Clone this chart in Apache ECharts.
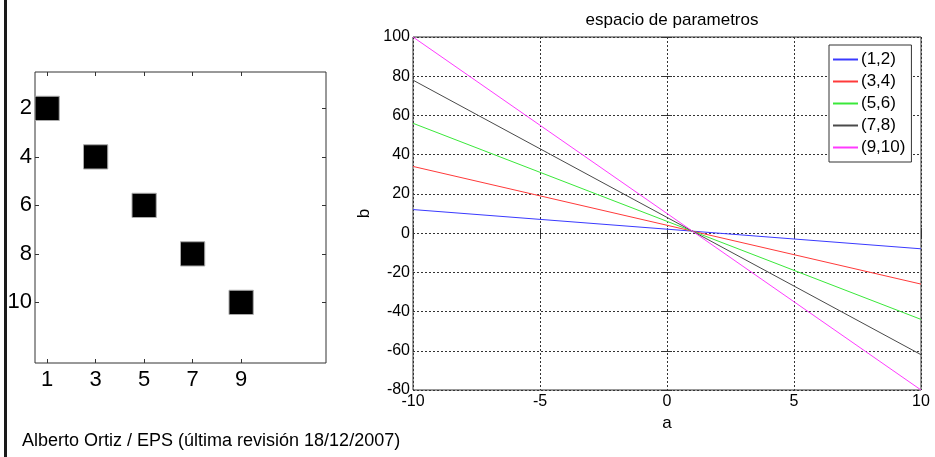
<!DOCTYPE html>
<html>
<head>
<meta charset="utf-8">
<script src="https://cdn.jsdelivr.net/npm/echarts@6/dist/echarts.min.js"></script>
<style>html,body{margin:0;padding:0;background:#fff;}#c{width:935px;height:457px;}</style>
</head>
<body>
<div id="c"></div>
<script>
// Left panel: image pixels (column, row)
var imageCols = [1, 3, 5, 7, 9];
var imageRows = [2, 4, 6, 8, 10];
var imageXTicks = [1, 3, 5, 7, 9];
var imageYTicks = [2, 4, 6, 8, 10];

// Right panel: lines in parameter space, read at a = -10 and a = 10
var seriesNames = ['(1,2)', '(3,4)', '(5,6)', '(7,8)', '(9,10)'];
var aRange = [-10, 10];
var bAtStart = [12, 34, 56, 78, 100];
var bAtEnd = [-8, -26, -44, -62, -80];
var seriesColors = ['#3a3aff', '#ff3a3a', '#3ae83a', '#4a4a4a', '#ff3aff'];

var FONT = 'Liberation Sans, Arial, Helvetica, sans-serif';
var chart = echarts.init(document.getElementById('c'), null, {renderer: 'canvas'});

var lineSeries = seriesNames.map(function (n, i) {
  return {
    name: n, type: 'line', xAxisIndex: 2, yAxisIndex: 2,
    data: [[aRange[0], bAtStart[i]], [aRange[1], bAtEnd[i]]],
    symbol: 'none', showSymbol: false, animation: false,
    lineStyle: {color: seriesColors[i], width: 1},
    itemStyle: {color: seriesColors[i]},
    z: 5
  };
});

var imageData = imageCols.map(function (c, i) { return [c, imageRows[i]]; });

var option = {
  animation: false,
  backgroundColor: '#fff',
  textStyle: {fontFamily: FONT},
  title: {
    text: 'espacio de parametros', left: 667, top: 7, textAlign: 'center',
    textStyle: {fontFamily: FONT, fontSize: 17, fontWeight: 'normal', color: '#000'}
  },
  legend: {
    orient: 'vertical', left: 829, top: 45, width: 83, height: 114,
    data: seriesNames,
    backgroundColor: '#fff', borderColor: '#333', borderWidth: 1,
    padding: [6, 6, 6, 4], itemGap: 5, itemWidth: 25, itemHeight: 17,
    icon: 'path://M0,7L25,7L25,9L0,9Z',
    textStyle: {fontFamily: FONT, fontSize: 17, color: '#000', padding: [0, 0, 0, -2]},
    selectedMode: false
  },
  grid: [
    {left: 35, top: 72, width: 291, height: 291, show: true, borderColor: '#333', borderWidth: 1, backgroundColor: '#fff'},
    {left: 413, top: 37, width: 508, height: 353, show: true, borderColor: '#333', borderWidth: 1, backgroundColor: '#fff'}
  ],
  xAxis: [
    {gridIndex: 0, type: 'value', min: 0.5, max: 12.5, position: 'bottom',
     axisLine: {show: false}, splitLine: {show: false},
     axisTick: {show: true, inside: true, length: 4, customValues: imageXTicks, lineStyle: {color: '#333'}},
     axisLabel: {customValues: imageXTicks, fontFamily: FONT, fontSize: 22, color: '#000', margin: 6}},
    {gridIndex: 0, type: 'value', min: 0.5, max: 12.5, position: 'top',
     axisLine: {show: false}, splitLine: {show: false},
     axisTick: {show: true, inside: true, length: 4, customValues: imageXTicks, lineStyle: {color: '#333'}},
     axisLabel: {show: false}},
    {gridIndex: 1, type: 'value', min: -10, max: 10, interval: 5, position: 'bottom',
     name: 'a', nameLocation: 'middle', nameGap: 24,
     nameTextStyle: {fontFamily: FONT, fontSize: 17, color: '#000'},
     axisLine: {show: false},
     splitLine: {show: true, lineStyle: {color: '#333', type: [2, 2], width: 1}},
     axisTick: {show: true, inside: true, length: 5, lineStyle: {color: '#333'}},
     axisLabel: {fontFamily: FONT, fontSize: 16, color: '#000', margin: 4}},
    {gridIndex: 1, type: 'value', min: -10, max: 10, interval: 5, position: 'top',
     axisLine: {show: false}, splitLine: {show: false},
     axisTick: {show: true, inside: true, length: 5, lineStyle: {color: '#333'}},
     axisLabel: {show: false}}
  ],
  yAxis: [
    {gridIndex: 0, type: 'value', min: 0.5, max: 12.5, inverse: true, position: 'left',
     axisLine: {show: false}, splitLine: {show: false},
     axisTick: {show: true, inside: true, length: 4, customValues: imageYTicks, lineStyle: {color: '#333'}},
     axisLabel: {customValues: imageYTicks, fontFamily: FONT, fontSize: 22, color: '#000', margin: 3}},
    {gridIndex: 0, type: 'value', min: 0.5, max: 12.5, inverse: true, position: 'right',
     axisLine: {show: false}, splitLine: {show: false},
     axisTick: {show: true, inside: true, length: 4, customValues: imageYTicks, lineStyle: {color: '#333'}},
     axisLabel: {show: false}},
    {gridIndex: 1, type: 'value', min: -80, max: 100, interval: 20, position: 'left',
     name: 'b', nameLocation: 'middle', nameGap: 40, nameRotate: 90,
     nameTextStyle: {fontFamily: FONT, fontSize: 17, color: '#000'},
     axisLine: {show: false},
     splitLine: {show: true, lineStyle: {color: '#333', type: [2, 2], width: 1}},
     axisTick: {show: true, inside: true, length: 5, lineStyle: {color: '#333'}},
     axisLabel: {fontFamily: FONT, fontSize: 16, color: '#000', margin: 3}},
    {gridIndex: 1, type: 'value', min: -80, max: 100, interval: 20, position: 'right',
     axisLine: {show: false}, splitLine: {show: false},
     axisTick: {show: true, inside: true, length: 5, lineStyle: {color: '#333'}},
     axisLabel: {show: false}}
  ],
  graphic: [
    {type: 'rect', left: 4, top: 0, shape: {width: 3, height: 457}, style: {fill: '#1a1a1a'}, z: 100},
    {type: 'text', left: 22, top: 432, style: {text: 'Alberto Ortiz / EPS (última revisión 18/12/2007)', fill: '#000', font: '18px ' + FONT}, z: 100}
  ],
  series: [
    {
      type: 'custom', xAxisIndex: 0, yAxisIndex: 0, data: imageData, animation: false,
      renderItem: function (params, api) {
        var p0 = api.coord([api.value(0) - 0.5, api.value(1) - 0.5]);
        var p1 = api.coord([api.value(0) + 0.5, api.value(1) + 0.5]);
        return {
          type: 'rect',
          shape: {x: Math.min(p0[0], p1[0]), y: Math.min(p0[1], p1[1]), width: Math.abs(p1[0] - p0[0]), height: Math.abs(p1[1] - p0[1])},
          style: {fill: '#000', stroke: '#aaa', lineWidth: 1}
        };
      }
    }
  ].concat(lineSeries)
};
chart.setOption(option);
</script>
</body>
</html>
